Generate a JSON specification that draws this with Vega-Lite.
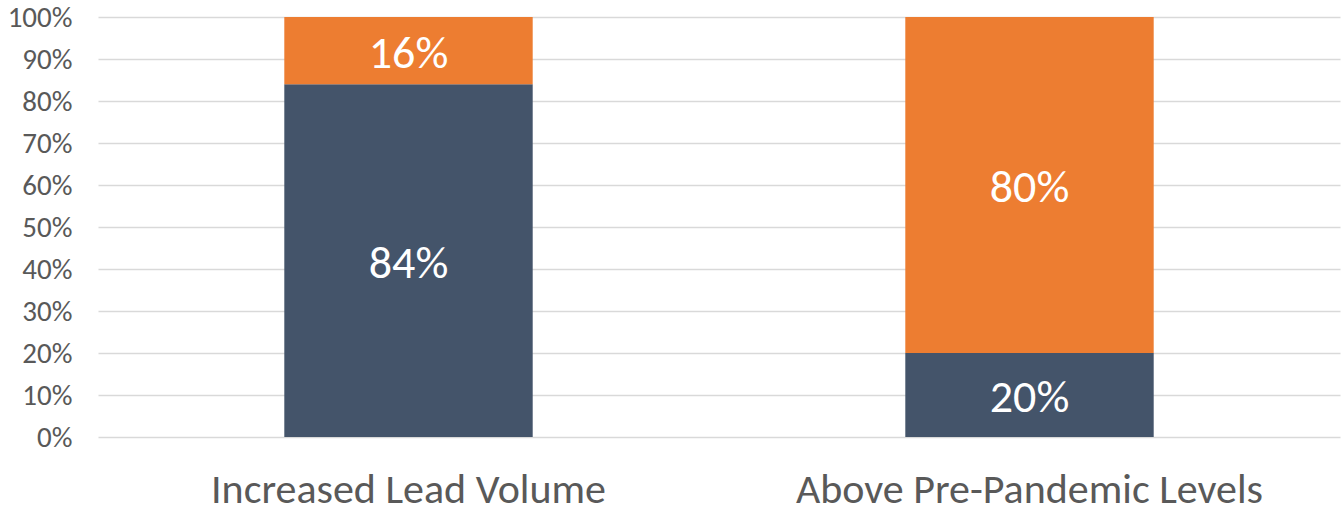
{
  "$schema": "https://vega.github.io/schema/vega-lite/v6.json",
  "autosize": {"type": "none"},
  "width": 1242,
  "height": 420,
  "padding": {"left": 98, "top": 17, "right": 4, "bottom": 76},
  "background": "white",
  "config": {"view": {"stroke": null}, "font": "Carlito, Lato, sans-serif"},
  "data": {"values": [
    {"category": "Increased Lead Volume", "series": "Yes", "order": 1, "value": 0.84},
    {"category": "Increased Lead Volume", "series": "No", "order": 2, "value": 0.16},
    {"category": "Above Pre-Pandemic Levels", "series": "Yes", "order": 1, "value": 0.20},
    {"category": "Above Pre-Pandemic Levels", "series": "No", "order": 2, "value": 0.80}
  ]},
  "transform": [
    {"stack": "value", "groupby": ["category"], "sort": [{"field": "order", "order": "ascending"}], "as": ["v0", "v1"]},
    {"calculate": "(datum.v0 + datum.v1) / 2", "as": "mid"}
  ],
  "encoding": {
    "x": {"field": "category", "type": "nominal", "sort": ["Increased Lead Volume", "Above Pre-Pandemic Levels"],
      "scale": {"paddingInner": 0.6, "paddingOuter": 0.3},
      "axis": {"title": null, "labelAngle": 0, "labelFontSize": 42, "labelLimit": 0, "labelColor": "#595959", "labelPadding": 32, "ticks": false, "domain": false, "labelFont": "Carlito, Lato, sans-serif"}}
  },
  "layer": [
    {
      "mark": {"type": "bar"},
      "encoding": {
        "y": {"field": "v0", "type": "quantitative", "scale": {"domain": [0, 1]},
          "axis": {"title": null, "format": ".0%", "values": [0,0.1,0.2,0.3,0.4,0.5,0.6,0.7,0.8,0.9,1], "labelFontSize": 29, "labelColor": "#595959", "labelPadding": 26, "ticks": false, "domain": false, "gridColor": "#d9d9d9", "gridWidth": 1.5, "labelFont": "Carlito, Lato, sans-serif"}},
        "y2": {"field": "v1"},
        "color": {"field": "series", "type": "nominal", "scale": {"domain": ["Yes", "No"], "range": ["#44546A", "#ED7D31"]}, "legend": null}
      }
    },
    {
      "mark": {"type": "text", "color": "white", "fontSize": 46, "baseline": "middle", "align": "center", "dy": 3},
      "encoding": {
        "y": {"field": "mid", "type": "quantitative"},
        "text": {"field": "value", "type": "quantitative", "format": ".0%"}
      }
    }
  ]
}
